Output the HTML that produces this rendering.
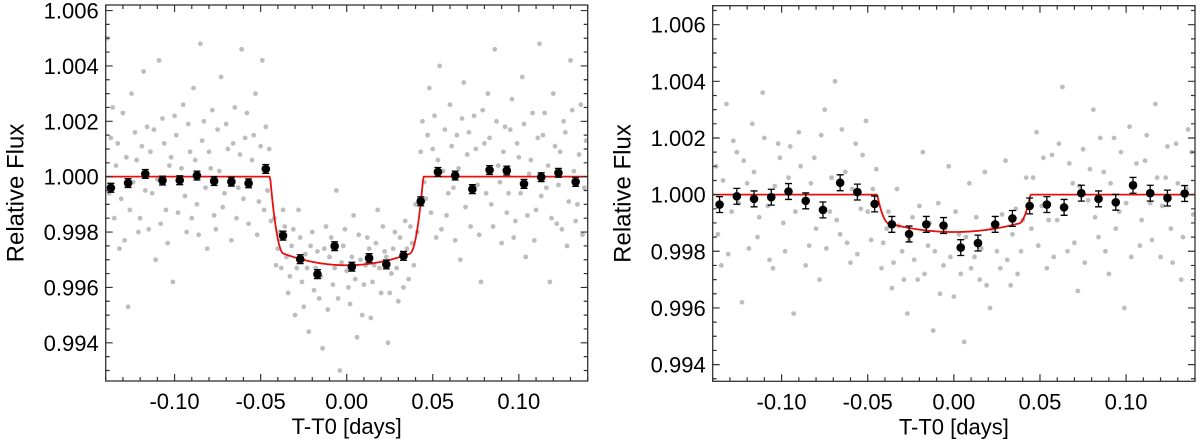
<!DOCTYPE html>
<html><head><meta charset="utf-8"><style>
html,body{margin:0;padding:0;background:#fff;}
svg{display:block;font-family:"Liberation Sans",Arial,sans-serif;}
</style></head><body>
<svg id="fig" width="1200" height="443" viewBox="0 0 1200 443" xmlns="http://www.w3.org/2000/svg"></svg>
<script>
// ---- data ----
const binX_L = [-0.137,-0.127,-0.117,-0.107,-0.097,-0.087,-0.077,-0.067,-0.057,-0.047,-0.037,-0.027,-0.017,-0.007,0.003,0.013,0.023,0.033,0.043,0.053,0.063,0.073,0.083,0.093,0.103,0.113,0.123,0.133];
const binY_L = [0.99960,0.99977,1.00010,0.99986,0.99987,1.00004,0.99984,0.99982,0.99976,1.00028,0.99787,0.99702,0.99648,0.99749,0.99675,0.99706,0.99683,0.99714,0.99911,1.00017,1.00004,0.99955,1.00024,1.00022,0.99974,0.99998,1.00014,0.99981];
const binErr_L = 0.00016;
const binX_R = [-0.136,-0.126,-0.116,-0.106,-0.096,-0.086,-0.076,-0.066,-0.056,-0.046,-0.036,-0.026,-0.016,-0.006,0.004,0.014,0.024,0.034,0.044,0.054,0.064,0.074,0.084,0.094,0.104,0.114,0.124,0.134];
const binY_R = [0.99965,0.99994,0.99985,0.99991,1.00011,0.99978,0.99946,1.00042,1.00009,0.99967,0.99895,0.99861,0.99895,0.99891,0.99813,0.99829,0.99895,0.99916,0.99960,0.99965,0.99955,1.00005,0.99985,0.99973,1.00033,1.00005,0.99988,1.00004];
const binErr_R = 0.00028;
// raw points: [x in 1e-3 days, flux offset in 1e-5]
const rawL = [[-139,500],[-136,250],[-133,120],[-131,-80],[-129,-230],[-127,-470],[-125,300],[-122,60],[-120,-150],[-118,380],[-116,180],[-113,-60],[-111,-300],[-109,420],[-107,210],[-105,-120],[-103,40],[-101,-380],[-99,150],[-97,-20],[-95,260],[-93,-200],[-91,90],[-89,320],[-87,-100],[-85,480],[-83,200],[-81,-260],[-79,30],[-77,-140],[-75,170],[-73,360],[-71,-60],[-69,100],[-67,-230],[-65,250],[-63,-40],[-61,460],[-59,140],[-57,-170],[-55,60],[-53,300],[-51,-90],[-49,420],[-47,180],[-46,-50],
[-42,-150],[-40,-260],[-38,-330],[-36,-180],[-34,-420],[-32,-250],[-30,-500],[-28,-120],[-26,-380],[-24,-280],[-22,-560],[-20,-200],[-18,-330],[-16,-440],[-14,-620],[-12,-180],[-10,-290],[-8,-390],[-6,-50],[-4,-700],[-2,-250],[0,-340],[2,-460],[4,-140],[6,-580],[8,-300],[10,-390],[12,-220],[14,-510],[16,-320],[18,-120],[20,-420],[22,-270],[24,-600],[26,-350],[28,-200],[30,-450],[32,-280],[34,-160],[36,-370],[38,-240],[40,-100],
[44,200],[46,-80],[48,320],[50,100],[52,-220],[54,400],[56,20],[58,-140],[60,260],[62,-40],[64,150],[66,-300],[68,340],[70,80],[72,-180],[74,220],[76,-30],[78,-380],[80,120],[82,300],[84,-100],[86,460],[88,40],[90,-240],[92,180],[94,-60],[96,280],[98,-160],[100,70],[102,360],[104,-290],[106,10],[108,230],[110,-120],[112,480],[114,150],[116,-40],[118,-380],[120,300],[122,-170],[124,90],[126,200],[128,-250],[130,420],[132,20],[134,-100],[136,260],[138,-40],
[-138,-60],[-137,140],[-135,-150],[-134,40],[-132,-260],[-130,230],[-128,70],[-126,-120],[-124,-20],[-123,160],[-121,-200],[-119,110],[-117,-50],[-115,-190],[-114,90],[-112,170],[-110,-10],[-108,-170],[-106,120],[-104,-240],[-102,70],[-100,220],[-98,-130],[-96,30],[-94,-70],[-92,190],[-90,-150],[-88,60],[-86,-210],[-84,130],[-82,-40],[-80,90],[-78,240],[-76,-190],[-74,20],[-72,-110],[-70,190],[-68,-20],[-66,120],[-64,-150],[-62,80],[-60,-80],[-58,230],[-56,-30],[-54,150],[-52,-210],[-50,110],[-48,-120],[-45,100],[-44,-160],
[-41,-320],[-39,-200],[-37,-120],[-35,-290],[-33,-360],[-31,-190],[-29,-330],[-27,-220],[-25,-470],[-23,-330],[-21,-250],[-19,-410],[-17,-270],[-15,-360],[-13,-260],[-11,-480],[-9,-220],[-7,-330],[-5,-440],[-3,-310],[-1,-190],[1,-400],[3,-290],[5,-370],[7,-210],[9,-500],[11,-320],[13,-260],[15,-380],[17,-240],[19,-330],[21,-180],[23,-290],[25,-420],[27,-260],[29,-330],[31,-220],[33,-400],[35,-260],[37,-180],[39,-320],[41,-200],
[43,90],[45,-20],[47,150],[49,-130],[51,220],[53,60],[55,-190],[57,170],[59,-60],[61,110],[63,-230],[65,30],[67,210],[69,-110],[71,160],[73,-40],[75,100],[77,-210],[79,240],[81,-60],[83,140],[85,-180],[87,200],[89,-20],[91,90],[93,-130],[95,170],[97,-220],[99,120],[101,-60],[103,190],[105,-140],[107,60],[109,-230],[111,140],[113,-70],[115,230],[117,40],[119,-150],[121,110],[123,-30],[125,-190],[127,160],[129,-90],[131,240],[133,-160],[135,80],[137,-210],[139,130]];
const rawR = [[-138,100],[-135,-250],[-132,320],[-129,-60],[-126,150],[-123,-380],[-120,40],[-117,250],[-114,-150],[-111,360],[-108,-40],[-105,-260],[-102,180],[-99,-100],[-96,60],[-93,-420],[-90,220],[-87,-20],[-84,-180],[-81,130],[-78,-300],[-75,300],[-72,-60],[-69,400],[-66,-140],[-63,80],[-60,-240],[-57,180],[-54,-50],[-51,260],[-48,-160],[-45,90],
[-42,-260],[-39,-120],[-36,-330],[-33,20],[-30,-200],[-27,-420],[-24,-80],[-21,-300],[-18,150],[-15,-180],[-12,-480],[-9,-30],[-6,-250],[-3,100],[0,-360],[3,-140],[6,-520],[9,40],[12,-220],[15,-300],[18,80],[21,-400],[24,-100],[27,-260],[30,120],[33,-320],[36,-50],[39,-200],[42,60],
[45,-120],[48,220],[51,-40],[54,-260],[57,140],[60,-90],[63,380],[66,-200],[69,40],[72,-340],[75,160],[78,-20],[81,300],[84,-150],[87,80],[90,-280],[93,200],[96,-60],[99,-400],[102,240],[105,40],[108,-180],[111,120],[114,-30],[117,320],[120,-220],[123,60],[126,-120],[129,180],[132,-300],[135,20],[138,150],
[-137,-140],[-134,50],[-131,-210],[-128,190],[-125,-30],[-122,120],[-119,-190],[-116,80],[-113,-80],[-110,200],[-107,-230],[-104,30],[-101,130],[-98,-200],[-95,170],[-92,-60],[-89,100],[-86,-250],[-83,40],[-80,-120],[-77,210],[-74,-190],[-71,60],[-68,-90],[-65,230],[-62,-170],[-59,20],[-56,-210],[-53,140],[-50,-60],[-47,20],
[-41,-170],[-38,-60],[-35,-240],[-32,-110],[-29,-300],[-26,-160],[-23,-230],[-20,-40],[-17,-280],[-14,-100],[-11,-200],[-8,-350],[-5,-120],[-2,-220],[1,-60],[4,-280],[7,-150],[10,-260],[13,-80],[16,-190],[19,-320],[22,-120],[25,-200],[28,-70],[31,-230],[34,-140],[37,-280],[40,-90],
[46,60],[49,-180],[52,130],[55,-90],[58,-220],[61,180],[64,-40],[67,110],[70,-170],[73,30],[76,-240],[79,90],[82,-80],[85,200],[88,-200],[91,40],[94,-120],[97,150],[100,-30],[103,-220],[106,110],[109,-90],[112,210],[115,-160],[118,60],[121,-40],[124,170],[127,-240],[130,40],[133,-150],[136,230],[139,-70]];
// model parameters [T2 (full), T4 (contact), depth, limb curvature]
const modelL = [0.0365, 0.0445, 0.00320, 0.13];
const modelR = [0.0375, 0.0445, 0.00132, 0.227];
const yTicks = [0.994,0.996,0.998,1.000,1.002,1.004,1.006];
const yTickLabels = ["0.994","0.996","0.998","1.000","1.002","1.004","1.006"];
const xTicks = [-0.10,-0.05,0.00,0.05,0.10];
const xTickLabels = ["-0.10","-0.05","0.00","0.05","0.10"];

const NS="http://www.w3.org/2000/svg";
const svg=document.getElementById('fig');
function mk(tag,attrs,parent){const e=document.createElementNS(NS,tag);for(const k in attrs)e.setAttribute(k,attrs[k]);(parent||svg).appendChild(e);return e;}

function modelFlux(t,p){
  const a=Math.abs(t),T2=p[0],T4=p[1],D=p[2],c=p[3];
  if(a>=T4) return 1;
  const edge=D*(1-c);
  if(a>=T2){const q=(T4-a)/(T4-T2);return 1-edge*(1-(1-q)*(1-q));}
  return 1-D*(1-c*(a/T2)*(a/T2));
}

function panel(name,box,xr,yr,raw,bx,by,be,mp){
  const g=mk('g',{});
  
  
  const X=v=>box.x0+(v-xr[0])/(xr[1]-xr[0])*(box.x1-box.x0);
  const Y=v=>box.y1-(v-yr[0])/(yr[1]-yr[0])*(box.y1-box.y0);
  const clipId=name+'-clip';
  const cp=mk('clipPath',{id:clipId},g);
  mk('rect',{x:box.x0,y:box.y0,width:box.x1-box.x0,height:box.y1-box.y0},cp);
  const data=mk('g',{'clip-path':'url(#'+clipId+')'},g);
  const rg=mk('g',{fill:'#bdbdbd'},data);
  
  
  raw.forEach(p=>{mk('circle',{cx:X(p[0]/1000),cy:Y(1+p[1]/1e5),r:2.4},rg);});
  let d='';
  for(let i=0;i<=600;i++){const t=xr[0]+(xr[1]-xr[0])*i/600;d+=(i?'L':'M')+X(t).toFixed(2)+','+Y(modelFlux(t,mp)).toFixed(2);}
  const ml=mk('path',{d:d,fill:'none',stroke:'#e8100f','stroke-width':1.8},data);
  
  
  const bg=mk('g',{},data);
  
  
  bx.forEach((x,i)=>{
    const cx=X(x),cy=Y(by[i]),t=Y(by[i]+be),b=Y(by[i]-be);
    mk('path',{d:`M${cx},${t}V${b}M${cx-3.5},${t}H${cx+3.5}M${cx-3.5},${b}H${cx+3.5}`,stroke:'#000','stroke-width':1.3,fill:'none'},bg);
    mk('circle',{cx:cx,cy:cy,r:4.3,fill:'#000'},bg);
  });
  const fr=mk('rect',{x:box.x0,y:box.y0,width:box.x1-box.x0,height:box.y1-box.y0,fill:'none',stroke:'#333','stroke-width':1.3},g);
  
  
  let td='';
  for(let k=-14;k<=14;k++){const v=k/100,x=X(v);const L=(k%5===0)?7:4;td+=`M${x},${box.y1}v${-L}M${x},${box.y0}v${L}`;}
  for(let k=Math.ceil(yr[0]/0.0005);k<=Math.floor(yr[1]/0.0005);k++){const v=k*0.0005,y=Y(v);const L=(k%4===0)?7:4;td+=`M${box.x0},${y}h${L}M${box.x1},${y}h${-L}`;}
  mk('path',{d:td,stroke:'#333','stroke-width':1.2,fill:'none'},g);
  yTicks.forEach((v,i)=>{const t=mk('text',{x:box.x0-7,y:Y(v)+8,'text-anchor':'end','font-size':22,fill:'#000'},g);t.textContent=yTickLabels[i];
    });
  xTicks.forEach((v,i)=>{const t=mk('text',{x:X(v),y:box.y1+28,'text-anchor':'middle','font-size':22,fill:'#000'},g);t.textContent=xTickLabels[i];
    });
  const xt=mk('text',{x:(box.x0+box.x1)/2,y:box.y1+53,'text-anchor':'middle','font-size':22,fill:'#000'},g);
  xt.textContent='T-T0 [days]';
  
  
  const yt=mk('text',{x:0,y:0,'text-anchor':'middle','font-size':24,fill:'#000',transform:`translate(${box.x0-82},${(box.y0+box.y1)/2}) rotate(-90)`},g);
  yt.textContent='Relative Flux';
  
  
}
panel('left-panel',{x0:105.7,x1:587.7,y0:5,y1:381},[-0.140,0.140],[0.99262,1.00620],rawL,binX_L,binY_L,binErr_L,modelL);
panel('right-panel',{x0:712.7,x1:1195,y0:5.7,y1:381.3},[-0.140,0.140],[0.99341,1.00667],rawR,binX_R,binY_R,binErr_R,modelR);
</script>
</body></html>
